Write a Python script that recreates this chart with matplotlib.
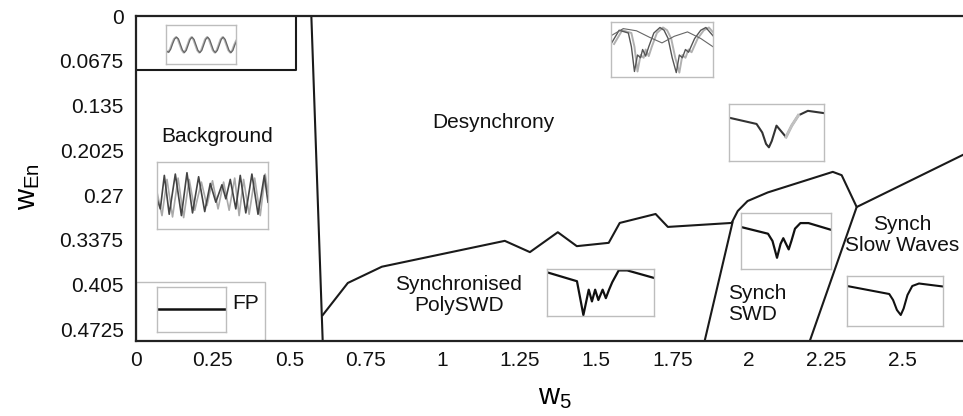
"""Phase diagram w5 vs wEn with regime boundaries and example traces"""
import numpy as np
import matplotlib
matplotlib.use("Agg")
import matplotlib.pyplot as plt
from matplotlib.patches import Rectangle

plt.rcParams.update({'font.family': 'Liberation Sans', 'font.size': 15,
                     'mathtext.fontset': 'custom', 'mathtext.rm': 'Liberation Sans',
                     'mathtext.it': 'Liberation Sans'})

W, H = 963, 416

# ── axis ticks ──
xticks = [0, 0.25, 0.5, 0.75, 1, 1.25, 1.5, 1.75, 2, 2.25, 2.5]
xtick_labels = ['0', '0.25', '0.5', '0.75', '1', '1.25', '1.5', '1.75', '2', '2.25', '2.5']
yticks = [0, 0.0675, 0.135, 0.2025, 0.27, 0.3375, 0.405, 0.4725]
ytick_labels = ['0', '0.0675', '0.135', '0.2025', '0.27', '0.3375', '0.405', '0.4725']

# ── regime boundaries (w5, wEn) ──
top_box_x = [0, 0.522, 0.522]
top_box_y = [0.081, 0.081, 0]
sep_x = [0.572, 0.609]
sep_y = [0, 0.49]
poly_x = [0.609, 0.691, 0.802, 1.203, 1.285, 1.376, 1.438, 1.542, 1.578, 1.695, 1.735,
          1.943, 1.963, 1.995, 2.061, 2.191, 2.273, 2.302, 2.351, 2.75]
poly_y = [0.451, 0.4025, 0.378, 0.339, 0.356, 0.326, 0.347, 0.342, 0.312, 0.2985, 0.318,
          0.312, 0.294, 0.279, 0.266, 0.247, 0.235, 0.240, 0.288, 0.1975]
swd_left_x = [1.946, 1.855]
swd_left_y = [0.311, 0.49]
swd_right_x = [2.351, 2.198]
swd_right_y = [0.288, 0.49]
fp_box = (0, 0.401, 0.421, 0.49)   # x0, y0, x1, y1

# ── regime labels ──
labels = [
    ('Background', 0.264, 0.182, 'center'),
    ('Desynchrony', 1.167, 0.161, 'center'),
    ('Synchronised\nPolySWD', 1.053, 0.421, 'center'),
    ('Synch\nSWD', 1.93, 0.434, 'left'),
    ('Synch\nSlow Waves', 2.50, 0.330, 'center'),
    ('FP', 0.313, 0.433, 'left'),
]

# ── example traces (normalised inset coords) ──
sine_y = [0.33, 0.30, 0.38, 0.52, 0.64, 0.69, 0.64, 0.50, 0.36, 0.29, 0.35, 0.49, 0.63, 0.69,
          0.63, 0.49, 0.35, 0.29, 0.35, 0.49, 0.63, 0.69, 0.63, 0.49, 0.35, 0.29, 0.35, 0.49,
          0.63, 0.69, 0.63, 0.49, 0.35, 0.29, 0.35, 0.49, 0.60]
bg_dark_x = [0.0, 0.03, 0.066, 0.11, 0.165, 0.22, 0.27, 0.32, 0.375, 0.43, 0.48, 0.53, 0.585,
             0.62, 0.66, 0.71, 0.75, 0.80, 0.855, 0.91, 0.967, 1.0]
bg_dark_y = [0.45, 0.30, 0.80, 0.22, 0.82, 0.20, 0.84, 0.24, 0.78, 0.26, 0.68, 0.40, 0.66,
             0.45, 0.74, 0.30, 0.80, 0.24, 0.82, 0.22, 0.80, 0.40]
bg_light_x = [0.0, 0.045, 0.09, 0.14, 0.19, 0.24, 0.29, 0.34, 0.40, 0.45, 0.50, 0.55, 0.60,
              0.65, 0.70, 0.74, 0.78, 0.83, 0.88, 0.93, 0.975, 1.0]
bg_light_y = [0.55, 0.20, 0.74, 0.18, 0.76, 0.17, 0.74, 0.28, 0.70, 0.35, 0.72, 0.30, 0.70,
              0.28, 0.76, 0.20, 0.74, 0.22, 0.76, 0.20, 0.82, 0.55]
desync_x = [0.0, 0.08, 0.17, 0.20, 0.23, 0.26, 0.29, 0.31, 0.34, 0.37, 0.42, 0.48, 0.52,
            0.56, 0.60, 0.64, 0.67, 0.70, 0.73, 0.76, 0.82, 0.88, 0.93, 1.0]
desync_y = [0.60, 0.85, 0.80, 0.55, 0.10, 0.40, 0.35, 0.50, 0.38, 0.55, 0.80, 0.90, 0.85,
            0.70, 0.35, 0.08, 0.40, 0.35, 0.50, 0.45, 0.70, 0.85, 0.90, 0.75]
desync_slow_x = [0.0, 0.12, 0.25, 0.38, 0.50, 0.62, 0.75, 0.88, 1.0]
desync_slow_y = [0.75, 0.88, 0.84, 0.72, 0.62, 0.74, 0.82, 0.70, 0.55]
desync2_x = [0.0, 0.29, 0.35, 0.39, 0.42, 0.45, 0.50, 0.55, 0.60, 0.66, 0.73, 0.83, 1.0]
desync2_y = [0.76, 0.65, 0.50, 0.30, 0.24, 0.35, 0.62, 0.52, 0.42, 0.62, 0.80, 0.88, 0.84]
poly_trace_x = [0.0, 0.28, 0.34, 0.39, 0.42, 0.45, 0.48, 0.52, 0.55, 0.58, 0.61, 0.67, 0.75, 1.0]
poly_trace_y = [0.93, 0.74, 0.02, 0.56, 0.31, 0.56, 0.34, 0.56, 0.38, 0.56, 0.72, 0.97, 0.97, 0.81]
swd_trace_x = [0.0, 0.30, 0.35, 0.40, 0.44, 0.47, 0.50, 0.53, 0.56, 0.60, 0.66, 0.75, 1.0]
swd_trace_y = [0.75, 0.63, 0.50, 0.20, 0.45, 0.55, 0.45, 0.35, 0.50, 0.72, 0.82, 0.82, 0.70]
slow_trace_x = [0.0, 0.44, 0.48, 0.52, 0.56, 0.59, 0.63, 0.68, 0.75, 1.0]
slow_trace_y = [0.80, 0.64, 0.52, 0.32, 0.22, 0.35, 0.62, 0.80, 0.85, 0.79]
fp_trace_x = [0.0, 1.0]
fp_trace_y = [0.51, 0.51]

fig = plt.figure(figsize=(W / 100, H / 100), dpi=100)

def px_axes(x0, y0, x1, y1):
    return fig.add_axes([x0 / W, 1 - y1 / H, (x1 - x0) / W, (y1 - y0) / H])

ax = px_axes(136, 16, 979, 341)
ax.set_xlim(0, 2.75)
ax.set_ylim(0.49, 0)
ax.set_xticks(xticks, xtick_labels)
ax.set_yticks(yticks, ytick_labels)
ax.tick_params(length=0, pad=7, labelsize=15, colors='#111')
ax.tick_params(axis='y', pad=9)
for s in ['left', 'top', 'bottom']:
    ax.spines[s].set_linewidth(1.6)
    ax.spines[s].set_color('#222')
ax.spines['right'].set_visible(False)

lc = dict(color='#1a1a1a', linewidth=1.5, solid_joinstyle='round')
ax.plot(top_box_x, top_box_y, **lc)
ax.plot(sep_x, sep_y, **lc)
ax.plot(poly_x, poly_y, **lc)
ax.plot(swd_left_x, swd_left_y, **lc)
ax.plot(swd_right_x, swd_right_y, **lc)
x0, y0, x1, y1 = fp_box
ax.add_patch(Rectangle((x0, y0), x1 - x0, y1 - y0, fill=False, edgecolor='#bdbdbd', linewidth=1.0))

for txt, x, y, ha in labels:
    ax.text(x, y, txt, ha=ha, va='center', fontsize=15, color='#111', linespacing=1.15,
            multialignment=ha)

fig.text(555 / W, 1 - 397 / H, r'$\mathregular{w_5}$', fontsize=21, ha='center', va='center')
fig.text(28 / W, 1 - 187 / H, r'$\mathregular{w_{En}}$', fontsize=21, rotation=90,
         ha='center', va='center')

def inset(x0, y0, x1, y1):
    a = px_axes(x0, y0, x1, y1)
    a.set_xlim(0, 1)
    a.set_ylim(0, 1)
    a.set_xticks([])
    a.set_yticks([])
    for s in a.spines.values():
        s.set_color('#bdbdbd')
        s.set_linewidth(1.0)
    a.patch.set_alpha(0)
    return a

a = inset(166, 25, 236, 64)
sx = np.linspace(0, 1, len(sine_y))
a.plot(sx, sine_y, color='#b5b5b5', linewidth=1.3)
a.plot(sx + 0.012, sine_y, color='#666', linewidth=0.9)

a = inset(157, 162, 268, 229)
a.plot(bg_light_x, bg_light_y, color='#aaaaaa', linewidth=1.2)
a.plot(bg_dark_x, bg_dark_y, color='#444', linewidth=1.2)

a = inset(611, 22, 713, 77)
a.plot(np.array(desync_x) + 0.03, desync_y, color='#b0b0b0', linewidth=1.4)
a.plot(desync_x, desync_y, color='#555', linewidth=1.0)
a.plot(desync_slow_x, desync_slow_y, color='#666', linewidth=0.8)

a = inset(729, 104, 824, 161)
a.plot(desync2_x, desync2_y, color='#333', linewidth=1.5)
a.plot(desync2_x[8:11], desync2_y[8:11], color='#c0c0c0', linewidth=2.2)

a = inset(547, 269, 654, 316)
a.plot(poly_trace_x, poly_trace_y, color='#111', linewidth=1.6)

a = inset(741, 213, 831, 269)
a.plot(swd_trace_x, swd_trace_y, color='#111', linewidth=1.6)

a = inset(847, 276, 943, 326)
a.plot(slow_trace_x, slow_trace_y, color='#111', linewidth=1.5)

a = inset(157, 287, 226, 332)
a.plot(fp_trace_x, fp_trace_y, color='#111', linewidth=1.8)

fig.savefig('out.png', dpi=100)
